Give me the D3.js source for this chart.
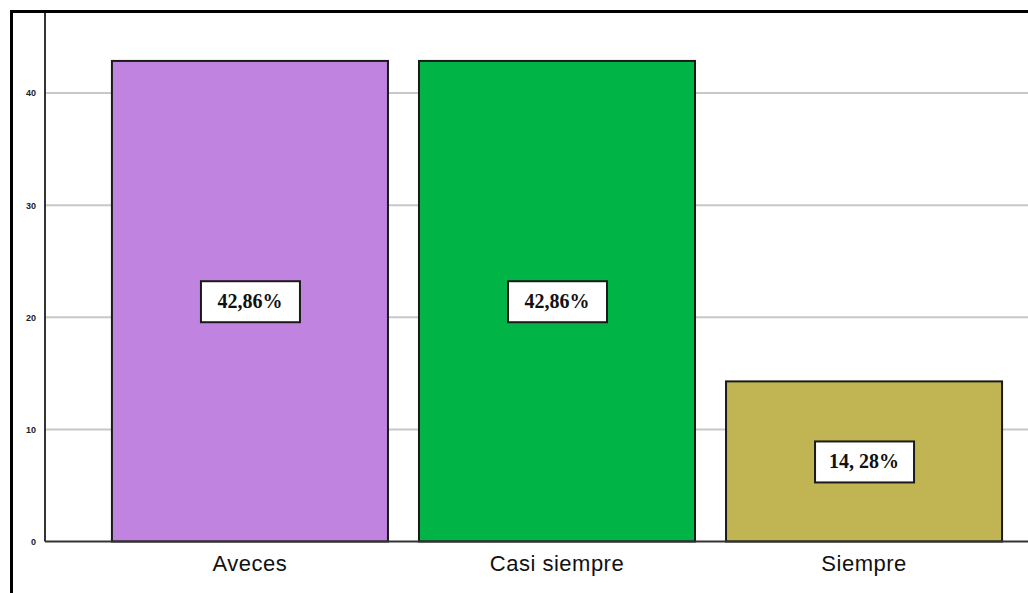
<!DOCTYPE html>
<html>
<head>
<meta charset="utf-8">
<script src="https://cdn.jsdelivr.net/npm/d3@7"></script>
<style>
  body { margin: 0; background: #fff; }
  svg { display: block; }
</style>
</head>
<body>
<div id="chart"></div>
<script>
// data
const categories = ["Aveces", "Casi siempre", "Siempre"];
const values = [42.86, 42.86, 14.28];
const valueLabels = ["42,86%", "42,86%", "14, 28%"];
const barColors = ["#c083e0", "#00b545", "#c0b552"];
const yTicks = [0, 10, 20, 30, 40];

const width = 1028, height = 593;
const margin = { left: 45, top: 11, bottom: 51 };

const svg = d3.select("#chart").append("svg")
    .attr("width", width)
    .attr("height", height);

const y = d3.scaleLinear()
    .domain([0, 40])
    .range([height - margin.bottom - 0.5, 93]);

const x = d3.scaleBand()
    .domain(categories)
    .range([margin.left, 1069])
    .paddingInner(0.101)
    .paddingOuter(0.218);

// gridlines
svg.append("g")
    .selectAll("line")
    .data(yTicks.filter(d => d > 0))
    .enter().append("line")
    .attr("x1", margin.left)
    .attr("x2", width)
    .attr("y1", d => y(d))
    .attr("y2", d => y(d))
    .attr("stroke", "#c8c8c8")
    .attr("stroke-width", 2);

// y axis (custom look)
const yAxis = svg.append("g")
    .attr("transform", `translate(${margin.left},0)`)
    .call(d3.axisLeft(y).tickValues(yTicks).tickSize(0).tickPadding(9));
yAxis.select(".domain").remove();
yAxis.selectAll("text")
    .attr("font-family", "Liberation Sans, Arial, sans-serif")
    .attr("font-size", 9)
    .attr("font-weight", "bold")
    .attr("fill", "#222");

svg.append("line")
    .attr("x1", margin.left).attr("x2", margin.left)
    .attr("y1", margin.top).attr("y2", y(0))
    .attr("stroke", "#333").attr("stroke-width", 2);

// bars
svg.append("g")
    .selectAll("rect")
    .data(values)
    .enter().append("rect")
    .attr("x", (d, i) => x(categories[i]))
    .attr("y", d => y(d))
    .attr("width", x.bandwidth())
    .attr("height", d => y(0) - y(d))
    .attr("fill", (d, i) => barColors[i])
    .attr("stroke", "#1a1a1a")
    .attr("stroke-width", 2);

// baseline
svg.append("line")
    .attr("x1", margin.left).attr("x2", width)
    .attr("y1", y(0)).attr("y2", y(0))
    .attr("stroke", "#333").attr("stroke-width", 2);

// category labels
svg.append("g")
    .attr("transform", `translate(0,${y(0)})`)
    .call(d3.axisBottom(x).tickSize(0).tickPadding(14))
    .call(g => g.select(".domain").remove())
    .selectAll("text")
    .attr("font-family", "Liberation Sans Narrow, Liberation Sans, Arial, sans-serif")
    .attr("font-size", 22)
    .attr("letter-spacing", 0.5)
    .attr("fill", "#111");

// value label boxes
const lab = svg.append("g")
    .selectAll("g")
    .data(values)
    .enter().append("g")
    .attr("transform", (d, i) => `translate(${x(categories[i]) + x.bandwidth() / 2},${y(d / 2)})`);

lab.append("rect")
    .attr("x", -49).attr("y", -20)
    .attr("width", 99).attr("height", 41)
    .attr("fill", "#fff")
    .attr("stroke", "#1a1a1a")
    .attr("stroke-width", 2);

lab.append("text")
    .attr("text-anchor", "middle")
    .attr("dy", "0.35em")
    .attr("font-family", "Liberation Serif, Times New Roman, serif")
    .attr("font-weight", "bold")
    .attr("font-size", 20)
    .attr("fill", "#111")
    .text((d, i) => valueLabels[i]);

// outer frame
svg.append("path")
    .attr("d", `M11.5,${height}V11.5H${width}`)
    .attr("fill", "none")
    .attr("stroke", "#000")
    .attr("stroke-width", 3);
</script>
</body>
</html>
